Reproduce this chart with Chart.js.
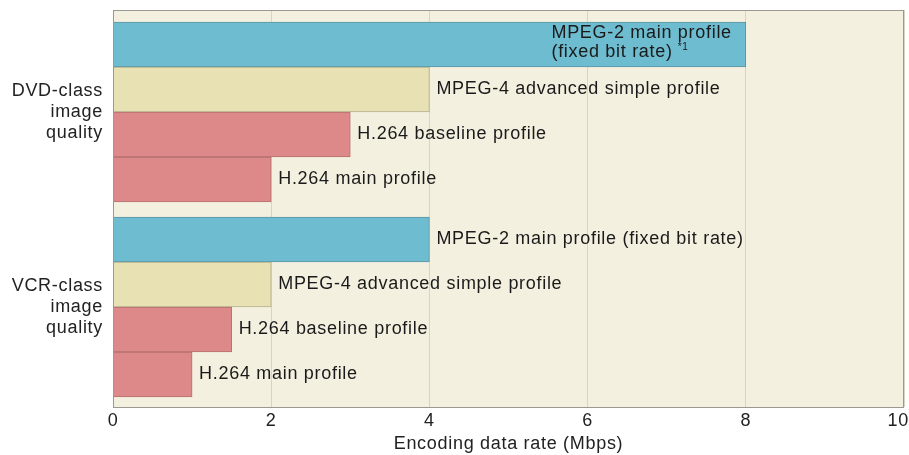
<!DOCTYPE html>
<html>
<head>
<meta charset="utf-8">
<script src="https://cdn.jsdelivr.net/npm/chart.js@4/dist/chart.umd.min.js"></script>
<style>
  html, body { margin: 0; padding: 0; background: #fff; }
  #wrap { width: 909px; height: 455px; }
</style>
</head>
<body>
<div id="wrap"><canvas id="c"></canvas></div>
<script>
/* ── DATA ───────────────────────────────────────────────────── */
const barLabels = [
  'MPEG-2 main profile|(fixed bit rate)',
  'MPEG-4 advanced simple profile',
  'H.264 baseline profile',
  'H.264 main profile',
  'MPEG-2 main profile (fixed bit rate)',
  'MPEG-4 advanced simple profile',
  'H.264 baseline profile',
  'H.264 main profile'
];
const rates     = [8, 4, 3, 2, 4, 2, 1.5, 1];
const slots     = [0, 1, 2, 3, 4.333, 5.333, 6.333, 7.333];
const codecs    = ['mpeg2', 'mpeg4', 'h264', 'h264', 'mpeg2', 'mpeg4', 'h264', 'h264'];
const groupPos  = [1.5, 5.833];
const groupText = [['DVD-class', 'image', 'quality'], ['VCR-class', 'image', 'quality']];
const xTicks    = [0, 2, 4, 6, 8, 10];

/* ── COLOURS ────────────────────────────────────────────────── */
const fillOf   = { mpeg2: '#6dbccf', mpeg4: '#e8e1b3', h264: '#de8989' };
const strokeOf = { mpeg2: '#5e95a3', mpeg4: '#b5b08f', h264: '#b77070' };
const FONT = '"Liberation Sans", Arial, sans-serif';
const FS = 18;
const SPACING = '0.7px'; // reference type is loosely spaced

/* ── PLUGINS ────────────────────────────────────────────────── */
const plotFrame = {
  id: 'plotFrame',
  beforeDraw(chart) {
    const { ctx, chartArea: a } = chart;
    ctx.letterSpacing = SPACING; // kept for the whole draw pass
    ctx.save();
    ctx.fillStyle = '#f4f0e0';
    ctx.fillRect(a.left, a.top, a.width, a.height);
    ctx.restore();
  },
  afterDraw(chart) {
    const { ctx, chartArea: a } = chart;
    ctx.save();
    ctx.strokeStyle = '#9a9890';
    ctx.lineWidth = 1;
    ctx.strokeRect(Math.round(a.left) + 0.5, Math.round(a.top) + 0.5,
                   Math.round(a.width) - 1, Math.round(a.height));
    ctx.restore();
  }
};

const barText = {
  id: 'barText',
  afterDatasetsDraw(chart) {
    const { ctx } = chart;
    const meta = chart.getDatasetMeta(0);
    ctx.save();
    ctx.fillStyle = '#1a1a1a';
    ctx.font = FS + 'px ' + FONT;
    ctx.textBaseline = 'middle';
    ctx.textAlign = 'left';
    meta.data.forEach((el, i) => {
      const txt = barLabels[i];
      if (txt.includes('|')) {
        // two lines inside the bar, block ends just before bar end
        const [l1, l2] = txt.split('|');
        const w1 = ctx.measureText(l1).width;
        const left = el.x - 14 - w1;
        ctx.fillText(l1, left, el.y - 11);
        ctx.fillText(l2, left, el.y + 8);
        const w2 = ctx.measureText(l2).width;
        ctx.font = '10px ' + FONT;
        ctx.fillText('*1', left + w2 + 5, el.y + 3);
        ctx.font = FS + 'px ' + FONT;
      } else {
        ctx.fillText(txt, el.x + 7, el.y);
      }
    });
    ctx.restore();
  }
};

/* ── CHART ──────────────────────────────────────────────────── */
new Chart(document.getElementById('c'), {
  type: 'bar',
  data: {
    datasets: [{
      data: rates.map((v, i) => ({ x: v, y: slots[i] })),
      backgroundColor: codecs.map(c => fillOf[c]),
      borderColor: codecs.map(c => strokeOf[c]),
      borderWidth: 1,
      barPercentage: 1,
      categoryPercentage: 1
    }]
  },
  options: {
    indexAxis: 'y',
    responsive: true,
    maintainAspectRatio: false,
    animation: false,
    layout: { padding: { top: 10, right: 5, left: 0, bottom: 0 } },
    plugins: {
      legend: { display: false },
      tooltip: { enabled: false }
    },
    scales: {
      x: {
        type: 'linear',
        min: 0,
        max: 10,
        afterBuildTicks: s => { s.ticks = xTicks.map(v => ({ value: v })); },
        grid: { color: '#d8d4c2', drawTicks: false },
        border: { display: false },
        ticks: {
          color: '#222',
          padding: 3,
          font: { family: FONT, size: FS },
          // last label sits a little inside the canvas edge
          callback: v => (v === 10 ? '10  ' : String(v))
        },
        title: {
          display: true,
          text: 'Encoding data rate (Mbps)',
          color: '#222',
          padding: { top: 0, bottom: 0 },
          font: { family: FONT, size: FS }
        },
        afterFit: s => { s.height = 48; s.paddingLeft = 0; s.paddingRight = 0; }
      },
      y: {
        type: 'linear',
        offset: false,
        reverse: true,
        min: -0.767,
        max: 8.055,
        afterBuildTicks: s => { s.ticks = groupPos.map(v => ({ value: v })); },
        grid: { display: false, drawTicks: false, offset: false },
        border: { display: false },
        ticks: {
          color: '#222',
          padding: 10,
          font: { family: FONT, size: FS, lineHeight: 1.15 },
          callback: (v, i) => groupText[i]
        },
        afterFit: s => { s.width = 113; s.paddingTop = 0; s.paddingBottom = 0; }
      }
    }
  },
  plugins: [plotFrame, barText]
});
</script>
</body>
</html>
